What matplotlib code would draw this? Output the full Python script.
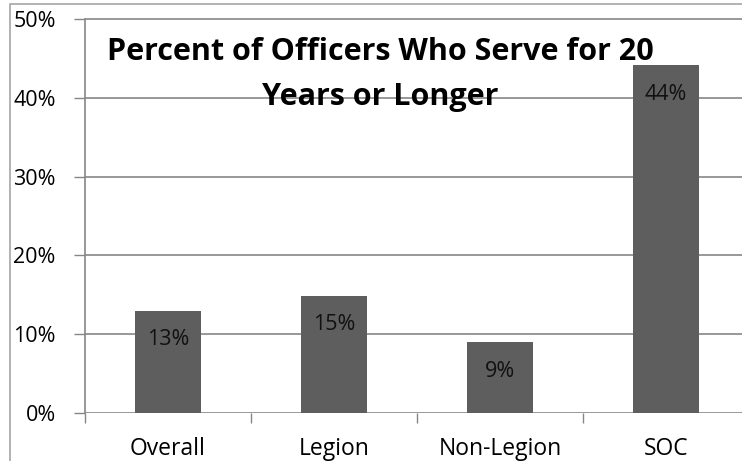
import matplotlib
matplotlib.use("Agg")
import matplotlib.pyplot as plt
from matplotlib.patches import Rectangle
from matplotlib.ticker import FixedLocator

categories = ["Overall", "Legion", "Non-Legion", "SOC"]
values = [13.0, 14.9, 9.0, 44.2]
labels = ["13%", "15%", "9%", "44%"]
yticks = [0, 10, 20, 30, 40, 50]
ytick_labels = ["0%", "10%", "20%", "30%", "40%", "50%"]
title_lines = ["Percent of Officers Who Serve for 20", "Years or Longer"]

W, H = 742, 461
fig = plt.figure(figsize=(W / 100, H / 100), dpi=100)
FONT = ["Open Sans", "DejaVu Sans"]
GRAY = "#868686"
BAR = "#5e5e5e"

# axes geometry (pixels)
x0, y0 = 85, 413          # origin
px_per = (413 - 19) / 50.0
ytop = 50.3
cat_w = 166
ax = fig.add_axes([x0 / W, (H - y0) / H, 4 * cat_w / W, ytop * px_per / H])

ax.bar(range(len(categories)), values, width=0.4, color=BAR, zorder=3)
ax.set_xlim(-0.5, 3.5)
ax.set_ylim(0, ytop)

ax.set_yticks(yticks)
ax.set_yticklabels(ytick_labels, fontsize=15.5, family=FONT)
ax.set_xticks(range(len(categories)))
ax.set_xticklabels(categories, fontsize=16.5, family=FONT)
ax.xaxis.set_minor_locator(FixedLocator([-0.5, 0.5, 1.5, 2.5, 3.5]))
ax.tick_params(axis="x", which="major", length=0, pad=17)
ax.tick_params(axis="x", which="minor", length=7, color=GRAY, width=1)
ax.tick_params(axis="y", length=8, color=GRAY, width=1, pad=13)
ax.yaxis.grid(True, color=GRAY, linewidth=1.2, zorder=0)
for s in ["top", "right", "bottom"]:
    ax.spines[s].set_visible(False)
ax.spines["left"].set_color(GRAY)
ax.spines["left"].set_linewidth(1.2)
ax.spines["left"].set_bounds(0, 50)

for i, (v, lab) in enumerate(zip(values, labels)):
    ax.text(i, v - 2.4, lab, ha="center", va="top", fontsize=15.5,
            family=FONT, color="#111111", zorder=4)

tx = (380 - x0) / (4 * cat_w)
for line, ypix in zip(title_lines, [52, 97]):
    ax.text(tx, (413 - ypix) / (ytop * px_per), line,
            transform=ax.transAxes, ha="center", va="center", fontsize=22,
            fontweight="bold", family=FONT, zorder=5)

# outer chart-area frame
fig.patches.append(Rectangle((10 / W, -0.1), 1.2, (H - 4) / H + 0.1,
                             transform=fig.transFigure, fill=False,
                             edgecolor="#a6a6a6", linewidth=1.2))

fig.savefig("out.png", dpi=100)
